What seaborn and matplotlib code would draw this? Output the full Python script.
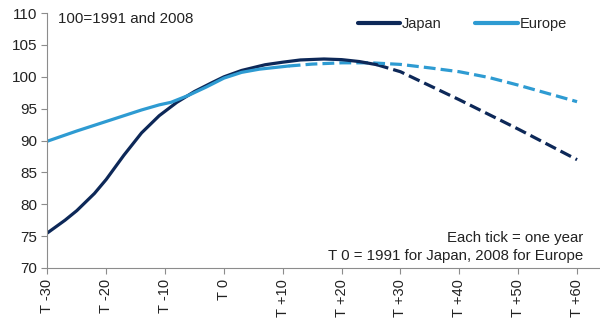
import matplotlib
matplotlib.use("Agg")
import matplotlib.pyplot as plt
import seaborn as sns
import pandas as pd
from matplotlib.lines import Line2D

# Data (index: 100 = 1991 for Japan, 2008 for Europe)
japan_actual_t = [-30, -27, -25, -22, -20, -17, -14, -11, -8, -5, -2, 0, 3, 7, 10, 13, 17, 20, 23, 26]
japan_actual_v = [75.5, 77.5, 79.0, 81.7, 83.9, 87.7, 91.2, 93.9, 96.0, 97.7, 99.1, 100.0, 101.0, 101.9,
                  102.3, 102.65, 102.8, 102.7, 102.4, 101.9]
japan_proj_t = [26, 30, 35, 40, 45, 50, 55, 60]
japan_proj_v = [101.9, 100.8, 98.6, 96.4, 94.1, 91.8, 89.4, 87.0]

europe_actual_t = [-30, -25, -20, -17, -14, -11, -9, -6, -3, 0, 3, 6, 9, 11]
europe_actual_v = [89.9, 91.5, 93.0, 93.9, 94.8, 95.6, 96.0, 97.1, 98.4, 99.8, 100.7, 101.2, 101.5, 101.7]
europe_proj_t = [11, 15, 20, 25, 30, 35, 40, 45, 50, 55, 60]
europe_proj_v = [101.7, 102.0, 102.2, 102.2, 101.95, 101.4, 100.8, 99.9, 98.7, 97.4, 96.1]

xticks = [-30, -20, -10, 0, 10, 20, 30, 40, 50, 60]
xtick_labels = ["T -30", "T -20", "T -10", "T 0", "T +10", "T +20", "T +30", "T +40", "T +50", "T +60"]
yticks = [70, 75, 80, 85, 90, 95, 100, 105, 110]

series_names = ["Japan", "Europe"]
colors = {"Japan": "#0d2858", "Europe": "#2e9bd2"}

sns.set_theme(style="white")
plt.rcParams["font.family"] = ["Liberation Sans", "DejaVu Sans"]

fig = plt.figure(figsize=(6.0, 3.28), dpi=100)
ax = fig.add_axes([0.078, 0.183, 0.922, 0.777])

parts = [
    ("Japan", japan_actual_t, japan_actual_v, "-"),
    ("Japan", japan_proj_t, japan_proj_v, "--"),
    ("Europe", europe_actual_t, europe_actual_v, "-"),
    ("Europe", europe_proj_t, europe_proj_v, "--"),
]
# draw dashed projections first, then solid
for name, t, v, ls in sorted(parts, key=lambda p: p[3] == "-"):
    df = pd.DataFrame({"t": t, "v": v})
    line_kw = dict(linewidth=2.3, solid_capstyle="round", solid_joinstyle="round")
    if ls == "--":
        line_kw.update(dashes=(3.2, 1.4), dash_capstyle="butt")
    sns.lineplot(data=df, x="t", y="v", ax=ax, color=colors[name], linestyle=ls,
                 sort=False, **line_kw)

ax.set_xlim(-30.1, 63.9)
ax.set_ylim(70, 110)
ax.set_xticks(xticks)
ax.set_xticklabels(xtick_labels, rotation=90, fontsize=10.5)
ax.set_yticks(yticks)
ax.set_yticklabels([str(y) for y in yticks], fontsize=11)
ax.set_xlabel("")
ax.set_ylabel("")

for s in ["top", "right"]:
    ax.spines[s].set_visible(False)
for s in ["left", "bottom"]:
    ax.spines[s].set_color("#8c8c8c")
    ax.spines[s].set_linewidth(0.8)
ax.tick_params(axis="both", which="major", length=4, width=0.8, color="#8c8c8c",
               direction="out", pad=3, labelcolor="#222222")
ax.tick_params(axis="x", pad=4)
ax.tick_params(bottom=True, left=True)

# legend
handles = [Line2D([0], [0], color=colors[n], lw=3.0, solid_capstyle="round") for n in series_names]
ax.legend(handles, series_names, loc="center", bbox_to_anchor=(0.751, 0.957), ncol=2,
          frameon=False, fontsize=10.5, handlelength=2.9, handletextpad=0.15,
          columnspacing=2.3, borderpad=0, borderaxespad=0)

ax.text(0.02, 0.977, "100=1991 and 2008", transform=ax.transAxes, fontsize=10.9,
        ha="left", va="center", color="#222222")
ax.text(0.969, 0.117, "Each tick = one year", transform=ax.transAxes, fontsize=10.8,
        ha="right", va="center", color="#222222")
ax.text(0.969, 0.047, "T 0 = 1991 for Japan, 2008 for Europe", transform=ax.transAxes,
        fontsize=10.8, ha="right", va="center", color="#222222")

fig.savefig("out.png", dpi=100)
